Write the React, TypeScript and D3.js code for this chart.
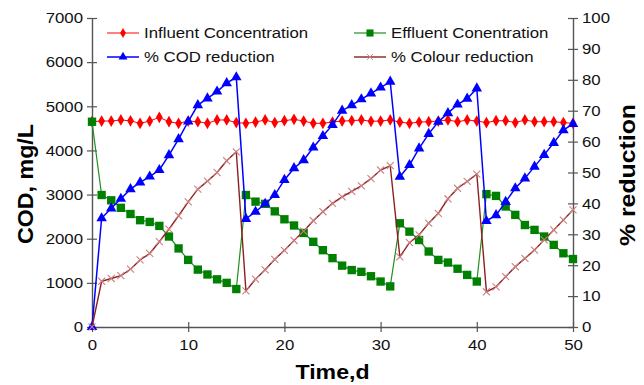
import React, { useEffect, useRef } from "react";
import * as d3 from "d3";

// Time, d
const days = [
  0, 1, 2, 3, 4, 5, 6, 7, 8, 9, 10, 11, 12, 13, 14, 15, 16, 17, 18, 19, 20, 21, 22, 23, 24, 25,
  26, 27, 28, 29, 30, 31, 32, 33, 34, 35, 36, 37, 38, 39, 40, 41, 42, 43, 44, 45, 46, 47, 48, 49, 50,
];

// COD, mg/L (left axis)
const influent = [
  4650, 4666, 4666, 4690, 4670, 4614, 4666, 4750, 4650, 4614, 4666, 4650, 4614, 4690, 4690, 4630,
  4614, 4643, 4690, 4630, 4673, 4704, 4666, 4614, 4614, 4643, 4666, 4673, 4690, 4660, 4666, 4690,
  4643, 4614, 4643, 4650, 4666, 4690, 4650, 4690, 4666, 4630, 4673, 4673, 4630, 4690, 4650, 4650,
  4650, 4630, 4614,
];
const effluent = [
  4650, 2990, 2870, 2700, 2560, 2420, 2380, 2290, 2050, 1780, 1520, 1300, 1190, 1080, 1000, 860,
  2990, 2840, 2790, 2620, 2440, 2300, 2130, 1930, 1740, 1560, 1390, 1290, 1250, 1150, 1030, 920,
  2350, 2160, 1970, 1710, 1520, 1460, 1320, 1180, 1030, 3010, 2970, 2730, 2540, 2310, 2200, 2050,
  1860, 1670, 1540,
];

// % reduction (right axis)
const codReduction = [
  0, 35.2, 38.4, 41.5, 44.6, 46.8, 48.7, 50.8, 55.6, 60.8, 66.5, 71.8, 74, 76.2, 78.9, 80.8, 35,
  37.3, 39.9, 42.7, 47.6, 51.4, 54, 58.1, 61.8, 65.4, 70, 71.8, 73.7, 75.6, 77.5, 79.4, 48.6, 52.4,
  57.8, 62.5, 66.4, 69.2, 72, 73.9, 77.2, 34.3, 36.2, 40.5, 44.9, 48.1, 51.9, 55.7, 59.6, 63.7, 65.7,
];
const colourReduction = [
  0, 14.8, 15.7, 16.6, 18.7, 21.7, 23.8, 27.6, 31.7, 36, 40.5, 44.6, 47.2, 50, 53.8, 56.7, 11.7,
  15.5, 18.5, 21.9, 24.8, 28, 31, 34.4, 37.3, 40, 42.1, 43.9, 45.7, 48, 50.8, 52.2, 22.7, 27.3, 29.8,
  33.6, 36.8, 41.5, 44.9, 47.1, 49.5, 11.4, 13, 16.3, 19.5, 22.2, 24.9, 28.2, 31.4, 34.6, 37.9,
];

const xTicks = [0, 10, 20, 30, 40, 50];
const leftTicks = [0, 1000, 2000, 3000, 4000, 5000, 6000, 7000];
const rightTicks = [0, 10, 20, 30, 40, 50, 60, 70, 80, 90, 100];

const W = 644;
const H = 385;
const SX = 1.12; // the source image is a little stretched sideways
const FONT = "'Liberation Sans', Arial, sans-serif";

type Series = {
  name: string;
  values: number[];
  axis: "left" | "right";
  line: string;
  lineWidth: number;
  marker: "diamond" | "square" | "triangle" | "x";
  markerColor: string;
};

const series: Series[] = [
  { name: "Influent Concentration", values: influent, axis: "left", line: "#ff0000", lineWidth: 1, marker: "diamond", markerColor: "#ff0000" },
  { name: "Effluent Conentration", values: effluent, axis: "left", line: "#1f8f1f", lineWidth: 1.2, marker: "square", markerColor: "#008000" },
  { name: "% COD reduction", values: codReduction, axis: "right", line: "#0000ff", lineWidth: 1.5, marker: "triangle", markerColor: "#0000ff" },
  { name: "% Colour reduction", values: colourReduction, axis: "right", line: "#8b2020", lineWidth: 1.4, marker: "x", markerColor: "#cc8080" },
];

const symbolPath = (m: Series["marker"]) => {
  if (m === "diamond") return d3.symbol(d3.symbolDiamond, 40)()!;
  if (m === "square") return d3.symbol(d3.symbolSquare, 70)()!;
  if (m === "triangle") return d3.symbol(d3.symbolTriangle, 48)()!;
  return d3.symbol(d3.symbolTimes, 34)()!;
};

const App = () => {
  const svgRef = useRef<SVGSVGElement>(null);

  useEffect(() => {
    const svg = d3.select(svgRef.current);
    svg.selectAll("*").remove();

    const x = d3.scaleLinear().domain([0, 50]).range([92, 573]);
    const yL = d3.scaleLinear().domain([0, 7000]).range([327, 18]);
    const yR = d3.scaleLinear().domain([0, 100]).range([327, 18]);

    const axisColor = "#555";

    // left axis
    const gL = svg
      .append("g")
      .attr("transform", `translate(${x(0)},0)`)
      .call(d3.axisLeft(yL).tickValues(leftTicks).tickSizeOuter(0).tickFormat(d3.format("d")));
    gL.selectAll(".tick line").attr("x1", -5).attr("x2", 5);
    gL.selectAll(".tick text").attr("x", -9 / SX).attr("transform", `scale(${SX},1)`);

    // right axis
    const gR = svg
      .append("g")
      .attr("transform", `translate(${x(50)},0)`)
      .call(d3.axisRight(yR).tickValues(rightTicks).tickSizeOuter(0).tickFormat(d3.format("d")));
    gR.selectAll(".tick line").attr("x1", -5).attr("x2", 5);
    gR.selectAll(".tick text").attr("x", 9 / SX).attr("transform", `scale(${SX},1)`);

    // bottom axis
    const gB = svg
      .append("g")
      .attr("transform", `translate(0,${yL(0)})`)
      .call(d3.axisBottom(x).tickValues(xTicks).tickSizeOuter(0).tickFormat(d3.format("d")));
    gB.selectAll(".tick line").attr("y1", -5).attr("y2", 5);
    gB.selectAll(".tick text").attr("y", 12).attr("transform", `scale(${SX},1)`);

    [gL, gR, gB].forEach((g) => {
      g.attr("font-family", FONT).attr("font-size", 15);
      g.select(".domain").attr("stroke", axisColor).attr("stroke-width", 1.4);
      g.selectAll(".tick line").attr("stroke", axisColor).attr("stroke-width", 1.2);
      g.selectAll(".tick text").attr("fill", "#111");
    });

    // series
    series.forEach((s) => {
      const y = s.axis === "left" ? yL : yR;
      const line = d3
        .line<number>()
        .x((_, i) => x(days[i]))
        .y((d) => y(d));
      const g = svg.append("g");
      g.append("path")
        .attr("d", line(s.values))
        .attr("fill", "none")
        .attr("stroke", s.line)
        .attr("stroke-width", s.lineWidth);
      g.selectAll("path.m")
        .data(s.values)
        .join("path")
        .attr("class", "m")
        .attr("d", symbolPath(s.marker))
        .attr("transform", (d, i) => `translate(${x(days[i])},${y(d)})`)
        .attr("fill", s.marker === "x" ? "none" : s.markerColor)
        .attr("stroke", s.marker === "x" ? s.markerColor : "none")
        .attr("stroke-width", 1.1);
    });

    // legend
    const legendPos = [
      [107, 33],
      [354, 33],
      [107, 57],
      [354, 57],
    ];
    series.forEach((s, i) => {
      const [lx, ly] = legendPos[i];
      const g = svg.append("g").attr("transform", `translate(${lx},${ly})`);
      g.append("line")
        .attr("x1", 0)
        .attr("x2", 32)
        .attr("stroke", s.line)
        .attr("stroke-width", s.lineWidth);
      g.append("path")
        .attr("d", symbolPath(s.marker))
        .attr("transform", "translate(16,0) scale(0.85)")
        .attr("fill", s.marker === "x" ? "none" : s.markerColor)
        .attr("stroke", s.marker === "x" ? s.markerColor : "none");
      g.append("text")
        .attr("transform", `translate(37,0) scale(${SX},1)`)
        .attr("dy", "0.35em")
        .attr("font-family", FONT)
        .attr("font-size", 15)
        .attr("fill", "#111")
        .text(s.name);
    });

    // axis titles
    svg
      .append("text")
      .attr("transform", "translate(33,184) rotate(-90)")
      .attr("text-anchor", "middle")
      .attr("font-family", FONT)
      .attr("font-weight", "bold")
      .attr("font-size", 22)
      .attr("textLength", 120)
      .attr("lengthAdjust", "spacingAndGlyphs")
      .text("COD, mg/L");

    svg
      .append("text")
      .attr("transform", "translate(635,175) rotate(-90)")
      .attr("text-anchor", "middle")
      .attr("font-family", FONT)
      .attr("font-weight", "bold")
      .attr("font-size", 22)
      .attr("textLength", 142)
      .attr("lengthAdjust", "spacingAndGlyphs")
      .text("% reduction");

    svg
      .append("text")
      .attr("x", (x(0) + x(50)) / 2)
      .attr("y", 379)
      .attr("text-anchor", "middle")
      .attr("font-family", FONT)
      .attr("font-weight", "bold")
      .attr("font-size", 21)
      .attr("textLength", 74)
      .attr("lengthAdjust", "spacingAndGlyphs")
      .text("Time,d");
  }, []);

  return (
    <svg
      ref={svgRef}
      width={W}
      height={H}
      style={{ position: "absolute", left: 0, top: 0, background: "#fff", display: "block" }}
    />
  );
};

export default App;
